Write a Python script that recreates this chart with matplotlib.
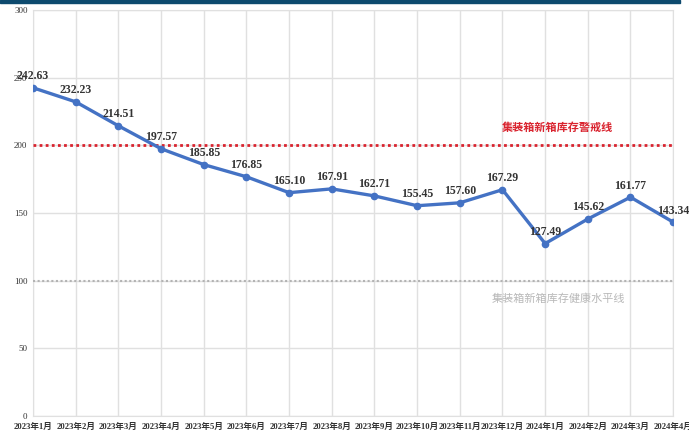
import numpy as np
import matplotlib.pyplot as plt

# 集装箱新箱库存 (月度)
months = ['2023年1月', '2023年2月', '2023年3月', '2023年4月', '2023年5月', '2023年6月',
          '2023年7月', '2023年8月', '2023年9月', '2023年10月', '2023年11月', '2023年12月',
          '2024年1月', '2024年2月', '2024年3月', '2024年4月']
inventory = [242.63, 232.23, 214.51, 197.57, 185.85, 176.85, 165.10, 167.91,
             162.71, 155.45, 157.60, 167.29, 127.49, 145.62, 161.77, 143.34]
warning_level = 200
healthy_level = 100
yticks = [0, 50, 100, 150, 200, 250, 300]

serif = ['Liberation Serif', 'Noto Sans CJK SC']
cjk = ['Noto Sans CJK SC', 'DejaVu Sans']

fig = plt.figure(figsize=(6.89, 4.34), dpi=100)
ax = fig.add_axes([0.048, 0.0415, 0.929, 0.935])

# 顶部深蓝色细条
fig.patches.append(plt.Rectangle((0, 0.993), 0.987, 0.007, transform=fig.transFigure,
                                 color='#0d4a6e', zorder=10))

x = np.arange(len(months))
ax.plot(x, inventory, color='#4472c4', lw=2.4, marker='o', ms=4.5, zorder=4)
for xi, v in zip(x, inventory):
    ax.annotate(f'{v:.2f}', (xi, v), xytext=(0, 4), textcoords='offset points',
                ha='center', va='bottom', fontsize=8.5, fontweight='bold',
                family=serif, color='#333333', zorder=5)

ax.axhline(warning_level, color='#d9232e', lw=2, ls=(0, (1, 1.2)), zorder=3)
ax.axhline(healthy_level, color='#b3b3b3', lw=1.5, ls=(0, (1, 1.2)), zorder=3)
ax.text(12.3, 213, '集装箱新箱库存警戒线', color='#d9232e', fontsize=8, fontweight='bold',
        family=cjk, ha='center', va='center')
ax.text(12.3, 87, '集装箱新箱库存健康水平线', color='#b8b8b8', fontsize=8,
        family=cjk, ha='center', va='center')

ax.set_xlim(0, len(months) - 1)
ax.set_ylim(0, 300)
ax.set_yticks(yticks)
ax.set_xticks(x)
ax.set_xticklabels(months, family=serif, fontsize=6.2, fontweight='bold', color='#333333')
for lab in ax.get_yticklabels():
    lab.set_family(serif)
    lab.set_fontsize(6.5)
    lab.set_color('#333333')
ax.tick_params(axis='x', length=0, pad=5)
ax.tick_params(axis='y', length=0, pad=4)
ax.grid(True, color='#e0e0e0', lw=1)
ax.set_axisbelow(True)
for s in ax.spines.values():
    s.set_color('#e0e0e0')

fig.savefig('out.png', dpi=100)
